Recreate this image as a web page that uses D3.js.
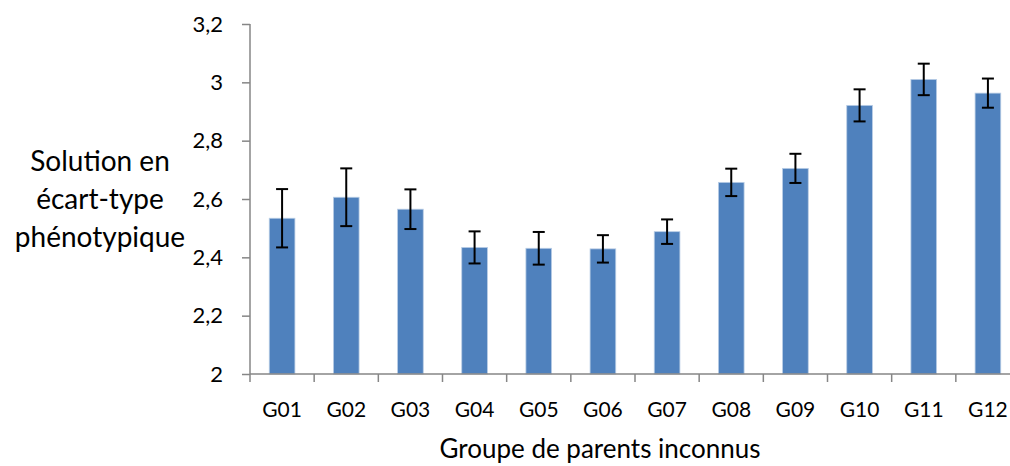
<!DOCTYPE html>
<html><head><meta charset="utf-8">
<script src="https://cdn.jsdelivr.net/npm/d3@7"></script>
<style>body{margin:0;background:#fff}svg{display:block}</style>
</head><body>
<script>
const categories = ["G01","G02","G03","G04","G05","G06","G07","G08","G09","G10","G11","G12"];
const values = [2.534, 2.606, 2.565, 2.434, 2.431, 2.429, 2.488, 2.657, 2.705, 2.921, 3.010, 2.963];
const errors = [0.100, 0.099, 0.068, 0.055, 0.056, 0.047, 0.042, 0.047, 0.050, 0.055, 0.054, 0.050];
const yTicks = [2, 2.2, 2.4, 2.6, 2.8, 3, 3.2];
const yTitle = ["Solution en", "écart-type", "phénotypique"];
const xTitle = "Groupe de parents inconnus";

const W = 1010, H = 466;
const mLeft = 250, mRight = 1020, mTop = 24, mBottom = 374;
const font = "Lato, 'Open Sans', sans-serif";
const svg = d3.select("body").append("svg").attr("width", W).attr("height", H);

const x = d3.scaleBand().domain(categories).range([mLeft, mRight]).paddingInner(0.6).paddingOuter(0.3);
const y = d3.scaleLinear().domain([2, 3.2]).range([mBottom, mTop]);

// bars
svg.append("g").selectAll("rect").data(categories).join("rect")
  .attr("x", d => x(d)).attr("width", x.bandwidth())
  .attr("y", (d, i) => y(values[i])).attr("height", (d, i) => y(2) - y(values[i]))
  .attr("fill", "#4F81BD").attr("stroke", "#b9cde5").attr("stroke-width", 0.8);

// error bars
const eg = svg.append("g").attr("stroke", "#000").attr("stroke-width", 2);
categories.forEach((c, i) => {
  const cx = x(c) + x.bandwidth() / 2;
  eg.append("line").attr("x1", cx).attr("x2", cx).attr("y1", y(values[i] + errors[i])).attr("y2", y(values[i] - errors[i]));
  eg.append("line").attr("x1", cx - 6).attr("x2", cx + 6).attr("y1", y(values[i] + errors[i])).attr("y2", y(values[i] + errors[i]));
  eg.append("line").attr("x1", cx - 6).attr("x2", cx + 6).attr("y1", y(values[i] - errors[i])).attr("y2", y(values[i] - errors[i]));
});

// y axis
const fmt = d => d3.format(".1~f")(d).replace(".", ",");
const ya = svg.append("g").attr("transform", `translate(${mLeft},0)`)
  .call(d3.axisLeft(y).tickValues(yTicks).tickFormat(fmt).tickSize(8).tickPadding(19));
ya.selectAll("line, path").attr("stroke", "#868686").attr("stroke-width", 1.5);
ya.select(".domain").attr("d", `M0,${mTop}V${mBottom}`);
ya.selectAll("text").attr("font-family", font).attr("font-size", 22).attr("fill", "#000");

// x axis
const xTickScale = d3.scaleLinear().domain([0, categories.length]).range([mLeft, mRight]);
const xa = svg.append("g").attr("transform", `translate(0,${mBottom})`)
  .call(d3.axisBottom(x).tickSize(0).tickPadding(28));
xa.select(".domain").attr("stroke", "#868686").attr("stroke-width", 1.5).attr("d", `M${mLeft},0H${mRight}`);
xa.selectAll("text").attr("font-family", font).attr("font-size", 21).attr("fill", "#000");
svg.append("g").selectAll("line").data(d3.range(categories.length + 1)).join("line")
  .attr("x1", d => xTickScale(d)).attr("x2", d => xTickScale(d))
  .attr("y1", mBottom).attr("y2", mBottom + 8)
  .attr("stroke", "#868686").attr("stroke-width", 1.5);

// titles
svg.append("text").attr("x", 600).attr("y", 458).attr("text-anchor", "middle")
  .attr("font-family", font).attr("font-size", 26).attr("fill", "#000").text(xTitle);
svg.append("g").selectAll("text").data(yTitle).join("text")
  .attr("x", 100).attr("y", (d, i) => 171 + i * 38).attr("text-anchor", "middle")
  .attr("font-family", font).attr("font-size", 28).attr("fill", "#000").text(d => d);
</script>
</body></html>
